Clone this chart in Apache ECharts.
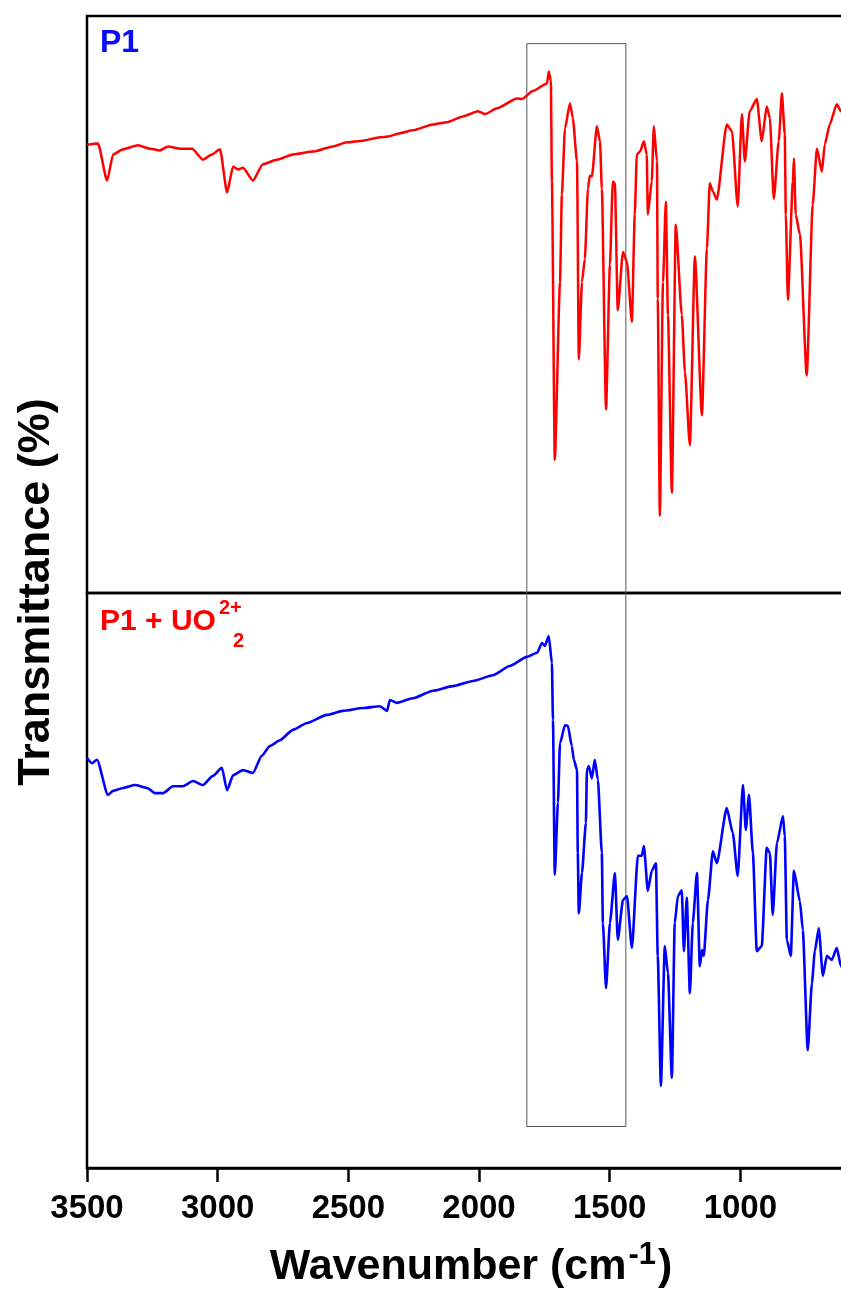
<!DOCTYPE html>
<html><head><meta charset="utf-8">
<script src="https://cdn.jsdelivr.net/npm/echarts@6/dist/echarts.min.js"></script>
<style>html,body{margin:0;padding:0;background:#fff}#c{width:841px;height:1292px}</style>
</head><body><div id="c"></div>
<script>
// Tick labels of the wavenumber axis
const xTickLabels = [3500, 3000, 2500, 2000, 1500, 1000];

// P1 spectrum (top panel, red)
const p1Wavenumber = [3500,3458,3423,3400,3362,3305,3259,3221,3190,3144,3098,3056,3022,2991,2964,2941,2922,2903,2865,2827,2773,2712,2635,2559,2505,2444,2379,2349,2303,2253,2176,2123,2062,2004,1977,1931,1855,1836,1794,1740,1733,1725,1721,1710,1690,1683,1671,1652,1641,1625,1618,1606,1595,1583,1576,1568,1549,1537,1530,1514,1499,1488,1480,1469,1449,1434,1415,1404,1396,1384,1369,1358,1354,1339,1331,1319,1316,1308,1296,1285,1277,1262,1247,1224,1212,1193,1174,1147,1128,1117,1105,1090,1052,1032,1010,994,983,964,937,918,899,887,872,853,841,830,826,818,799,795,788,772,746,723,707,688,677,658,631,615,600];
const p1Transmittance = [77.7,77.9,71.5,76.0,76.9,77.6,77.0,76.7,77.4,77.0,77.0,75.1,76.0,76.9,69.4,73.9,73.4,73.7,71.5,74.3,75.1,76.0,76.5,77.4,78.1,78.4,79.0,79.1,79.7,80.2,81.2,81.6,82.6,83.5,83.0,84.0,85.7,85.6,87.0,88.3,90.4,88.7,71.3,23.1,53.9,69.0,80.5,84.9,82.3,74.8,40.5,53.9,57.9,70.1,72.3,72.2,80.9,78.3,70.1,31.8,56.9,71.3,71.0,49.0,59.1,57.4,47.0,65.6,76.0,76.5,78.3,76.0,65.6,71.3,80.9,74.8,51.0,13.4,53.9,67.8,48.2,17.4,63.8,48.2,38.3,25.6,58.3,30.8,59.7,71.0,69.6,68.2,81.2,80.0,67.0,83.0,74.8,83.5,85.6,78.3,84.3,82.3,68.3,78.3,86.6,79.5,65.6,50.8,71.3,75.3,65.6,62.1,37.7,67.3,77.0,73.0,77.7,81.2,84.7,83.5,82.5];

// P1 + UO2(2+) spectrum (bottom panel, blue)
const p1uWavenumber = [3500,3481,3462,3420,3400,3362,3316,3270,3240,3209,3171,3133,3094,3056,3018,2984,2964,2941,2903,2865,2831,2800,2762,2712,2658,2582,2521,2444,2379,2352,2341,2314,2253,2176,2100,2023,1947,1882,1817,1778,1759,1748,1733,1721,1717,1710,1698,1690,1671,1660,1645,1637,1625,1622,1618,1606,1591,1587,1580,1568,1557,1545,1530,1526,1514,1499,1480,1469,1449,1434,1415,1392,1377,1369,1354,1339,1323,1316,1304,1289,1277,1262,1251,1239,1224,1216,1205,1193,1182,1166,1155,1147,1140,1124,1105,1090,1052,1029,1010,990,979,967,952,937,918,899,887,876,860,837,830,822,807,795,772,761,742,726,715,700,684,669,650,631,615,600];
const p1uTransmittance = [71.3,70.4,71.0,64.9,65.6,66.1,66.6,66.1,65.2,65.2,66.4,66.4,67.3,66.6,68.2,69.6,65.7,68.3,69.2,68.7,71.7,73.4,74.4,76.2,77.4,78.8,79.5,80.0,80.3,79.5,81.4,80.9,81.7,83.0,83.8,84.7,85.7,87.3,88.9,89.6,91.3,90.8,92.5,87.8,77.9,51.0,63.5,73.9,77.0,76.9,73.4,71.0,69.2,54.8,44.3,51.3,60.0,69.2,69.9,67.8,71.0,67.5,54.8,42.6,31.3,42.6,51.3,39.7,46.6,47.3,38.3,54.3,54.3,56.0,48.2,51.7,53.0,36.9,14.3,38.6,33.9,15.7,42.6,47.3,48.3,37.7,47.0,30.4,42.6,51.3,35.1,37.9,36.9,46.6,55.1,53.0,62.6,58.3,50.8,66.6,58.8,64.9,54.8,37.7,38.6,55.7,54.8,44.0,56.5,61.2,57.7,39.7,36.9,51.7,46.4,41.4,20.5,32.2,37.7,41.7,33.4,36.9,36.2,38.3,35.1,34.0];

// Highlight box (wavenumber range, relative level over the whole stacked height)
const boxWavenumbers = [1817, 1438];
const boxLevels = [97.6, 3.6];

const zip = (a, b) => a.map((v, i) => [v, b[i]]);
const FONT = "'Liberation Sans', Arial, Helvetica, sans-serif";

const chart = echarts.init(document.getElementById('c'), null, {renderer: 'canvas'});
const hiddenX = {type: 'value', min: 500, max: 3500, interval: 500, inverse: true, show: false};
const hiddenY = {type: 'value', min: 0, max: 100, show: false};

chart.setOption({
  animation: false,
  backgroundColor: '#fff',
  grid: [
    {left: 87, top: 16, width: 784, height: 577, show: true, borderColor: '#000', borderWidth: 2.5, backgroundColor: 'transparent', outerBoundsMode: 'none', containLabel: false},
    {left: 87, top: 593, width: 784, height: 575, show: true, borderColor: '#000', borderWidth: 2.5, backgroundColor: 'transparent', outerBoundsMode: 'none', containLabel: false},
    {left: 87, top: 16, width: 784, height: 1152, show: false, outerBoundsMode: 'none', containLabel: false}
  ],
  xAxis: [
    Object.assign({gridIndex: 0}, hiddenX),
    {
      gridIndex: 1, type: 'value', min: 500, max: 3500, interval: 500, inverse: true,
      axisLine: {show: true, lineStyle: {color: '#000', width: 2.5}},
      axisTick: {show: true, inside: false, length: 14, lineStyle: {color: '#000', width: 2.5}},
      splitLine: {show: false},
      axisLabel: {
        show: true, margin: 24, color: '#000', fontSize: 33, fontWeight: 'bold', fontFamily: FONT,
        showMinLabel: false, hideOverlap: false,
        formatter: v => xTickLabels.includes(v) ? String(v) : ''
      },
      name: 'Wavenumber (cm{sup|-1})',
      nameLocation: 'middle',
      nameGap: 72,
      nameTextStyle: {
        color: '#000', fontSize: 43, fontWeight: 'bold', fontFamily: FONT,
        padding: [0, 16, 0, 0],
        rich: {sup: {fontSize: 31, fontWeight: 'bold', fontFamily: FONT, color: '#000', verticalAlign: 'top', padding: [0, 2, 24, 2]}}
      }
    },
    Object.assign({gridIndex: 2}, hiddenX)
  ],
  yAxis: [
    Object.assign({gridIndex: 0}, hiddenY),
    Object.assign({gridIndex: 1}, hiddenY),
    {
      gridIndex: 2, type: 'value', min: 0, max: 100,
      axisLine: {show: false}, axisTick: {show: false}, axisLabel: {show: false}, splitLine: {show: false},
      name: 'Transmittance (%)', nameLocation: 'middle', nameGap: 28, nameRotate: 90,
      nameTextStyle: {color: '#000', fontSize: 45, fontWeight: 'bold', fontFamily: FONT}
    }
  ],
  series: [
    {
      name: 'P1', type: 'line', xAxisIndex: 0, yAxisIndex: 0,
      data: zip(p1Wavenumber, p1Transmittance),
      showSymbol: false, symbol: 'none', color: '#ff0000',
      smooth: 0.2, smoothMonotone: 'x',
      lineStyle: {color: '#ff0000', width: 2.5, join: 'round'}
    },
    {
      name: 'P1 + UO2', type: 'line', xAxisIndex: 1, yAxisIndex: 1,
      data: zip(p1uWavenumber, p1uTransmittance),
      showSymbol: false, symbol: 'none', color: '#0000ff',
      smooth: 0.2, smoothMonotone: 'x',
      lineStyle: {color: '#0000ff', width: 2.6, join: 'round'}
    },
    {
      name: 'box', type: 'line', xAxisIndex: 2, yAxisIndex: 2, data: [],
      markArea: {
        silent: true,
        itemStyle: {color: 'rgba(0,0,0,0)', borderColor: '#555', borderWidth: 1},
        label: {show: false},
        data: [[{coord: [boxWavenumbers[0], boxLevels[0]]}, {coord: [boxWavenumbers[1], boxLevels[1]]}]]
      }
    }
  ],
  graphic: [
    {type: 'text', left: 100, top: 27, style: {text: 'P1', fill: '#0a0aff', font: "bold 32px " + FONT}},
    {type: 'text', left: 100, top: 607, style: {text: 'P1 + UO', fill: '#ff0000', font: "bold 30px " + FONT}},
    {type: 'text', left: 219, top: 598, style: {text: '2+', fill: '#ff0000', font: "bold 20px " + FONT}},
    {type: 'text', left: 233, top: 631, style: {text: '2', fill: '#ff0000', font: "bold 20px " + FONT}}
  ]
});
</script>
</body></html>
